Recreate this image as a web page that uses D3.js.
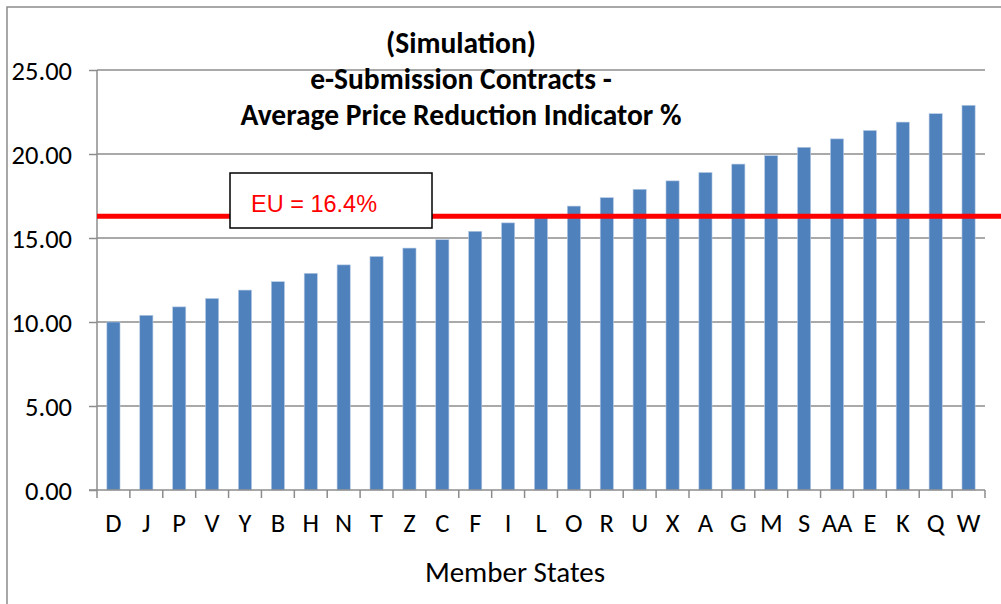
<!DOCTYPE html>
<meta charset="utf-8">
<title>e-Submission Contracts - Average Price Reduction Indicator</title>
<style>
body { margin: 0; background: #fff; }
text { font-family: Carlito, Calibri, Lato, sans-serif; fill: #000; }
.grid line { stroke: #8c8c8c; stroke-width: 1.3px; }
</style>
<body>
<svg width="1001" height="604"></svg>
<script src="https://d3js.org/d3.v7.min.js"></script>
<script>
// values
var states = ["D","J","P","V","Y","B","H","N","T","Z","C","F","I","L","O","R","U","X","A","G","M","S","AA","E","K","Q","W"];
var reduction = [10.0,10.4,10.9,11.4,11.9,12.4,12.9,13.4,13.9,14.4,14.9,15.4,15.9,16.4,16.9,17.4,17.9,18.4,18.9,19.4,19.9,20.4,20.9,21.4,21.9,22.4,22.9];
var yTicks = [0, 5, 10, 15, 20, 25];
var euLevel = 16.3;          // where the red line sits
var euLabel = "EU = 16.4%";
var titleLines = ["(Simulation)", "e-Submission Contracts -", "Average Price Reduction Indicator %"];
var xTitle = "Member States";

var svg = d3.select("svg"),
    margin = {top: 70, left: 97, right: 16, bottom: 114},
    W = +svg.attr("width"), H = +svg.attr("height");

var x = d3.scaleBand().domain(states).range([margin.left, W - margin.right]),
    y = d3.scaleLinear().domain([0, 25]).range([H - margin.bottom, margin.top]);

// outer chart box (runs off the right and bottom of the picture)
svg.append("rect")
    .attr("x", 7).attr("y", 7)
    .attr("width", W).attr("height", H)
    .attr("fill", "none").attr("stroke", "#8c8c8c").attr("stroke-width", 1.5);

// gridlines
svg.append("g").attr("class", "grid")
  .selectAll("line").data(yTicks.slice(1)).enter().append("line")
    .attr("x1", margin.left).attr("x2", W - margin.right)
    .attr("y1", function(d) { return y(d); }).attr("y2", function(d) { return y(d); });

// y axis
var yAxis = d3.axisLeft(y).tickValues(yTicks).tickSize(8).tickPadding(17)
    .tickFormat(d3.format(".2f"));
var yg = svg.append("g").attr("transform", "translate(" + margin.left + ",0)").call(yAxis);
yg.selectAll("path, line").attr("stroke", "#8c8c8c").attr("stroke-width", 1.5);
yg.select(".domain").attr("d", "M0," + y(25) + "V" + y(0));
yg.selectAll("text").style("font-size", "26.5px").style("font-family", "Carlito, Calibri, Lato, sans-serif").attr("dy", "0.35em");

// bars
svg.append("g").selectAll("rect").data(states).enter().append("rect")
    .attr("x", function(d) { return x(d) + x.bandwidth() * 0.3; })
    .attr("width", x.bandwidth() * 0.4)
    .attr("y", function(d, i) { return y(reduction[i]); })
    .attr("height", function(d, i) { return y(0) - y(reduction[i]); })
    .attr("fill", "#4f81bd")
    .attr("stroke", "#b8cce4").attr("stroke-width", 0.6);

// x axis line, boundary ticks and labels
var xg = svg.append("g");
xg.append("line")
    .attr("x1", margin.left - 8).attr("x2", W - margin.right)
    .attr("y1", y(0)).attr("y2", y(0))
    .attr("stroke", "#8c8c8c").attr("stroke-width", 1.5);
xg.selectAll(".tk").data(states.map(function(d) { return x(d); }).concat([x.range()[1]]))
  .enter().append("line")
    .attr("x1", function(d) { return d; }).attr("x2", function(d) { return d; })
    .attr("y1", y(0)).attr("y2", y(0) + 8)
    .attr("stroke", "#8c8c8c").attr("stroke-width", 1.5);
xg.selectAll("text").data(states).enter().append("text")
    .attr("x", function(d) { return x(d) + x.bandwidth() / 2; })
    .attr("y", y(0) + 42)
    .attr("text-anchor", "middle")
    .style("font-size", "26.5px")
    .text(function(d) { return d; });

svg.append("text")
    .attr("x", 515).attr("y", 582)
    .attr("text-anchor", "middle")
    .style("font-size", "29px")
    .text(xTitle);

// EU average line
svg.append("line")
    .attr("x1", margin.left).attr("x2", W)
    .attr("y1", y(euLevel)).attr("y2", y(euLevel))
    .attr("stroke", "#ff0000").attr("stroke-width", 5);

var box = svg.append("g").attr("transform", "translate(230,173)");
box.append("rect")
    .attr("width", 202).attr("height", 55)
    .attr("fill", "#fff").attr("stroke", "#000").attr("stroke-width", 1.5);
box.append("text")
    .attr("x", 21).attr("y", 39)
    .style("font-family", "'Liberation Sans', Arial, sans-serif")
    .style("font-size", "23.5px")
    .style("fill", "#ff0000")
    .text(euLabel);

// title
svg.append("g").selectAll("text").data(titleLines).enter().append("text")
    .attr("x", 461)
    .attr("y", function(d, i) { return 53 + i * 36; })
    .attr("text-anchor", "middle")
    .style("font-size", "29.5px")
    .style("font-weight", "bold")
    .text(function(d) { return d; });
</script>
</body>
